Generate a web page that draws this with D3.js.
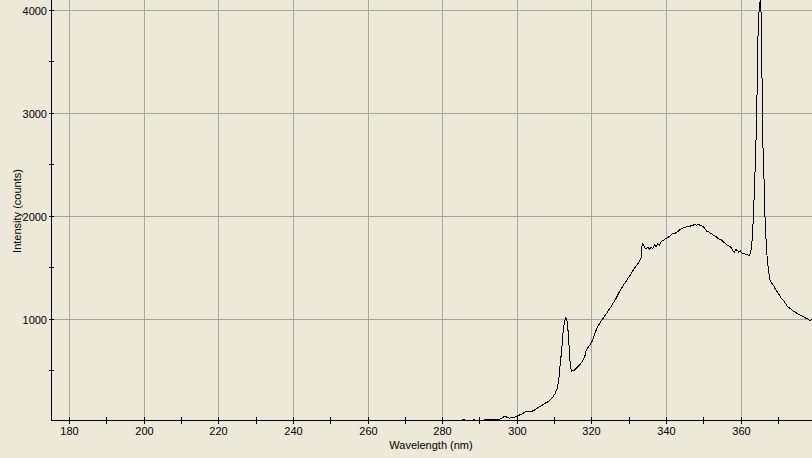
<!DOCTYPE html>
<html><head><meta charset="utf-8">
<script src="https://cdn.jsdelivr.net/npm/d3@7"></script>
<style>
html,body{margin:0;padding:0;background:#ECE9D8;overflow:hidden;}
svg{display:block;}
text{font-family:"Liberation Sans",Arial,sans-serif;font-size:11px;fill:#000;}
</style></head>
<body>
<svg id="c" width="812" height="458"></svg>
<script>
const xMajorTicks = [180,200,220,240,260,280,300,320,340,360];
const xMinorTicks = [190,210,230,250,270,290,310,330,350,370];
const yMajorTicks = [1000,2000,3000,4000];
const yMinorTicks = [500,1500,2500,3500];
const xLabel = "Wavelength (nm)";
const yLabel = "Intensity (counts)";

const wavelength = [280.0,284.8,285.3,285.8,286.2,287.9,288.1,288.5,288.8,290.5,291.4,292.0,293.0,294.2,295.3,295.8,296.3,297.0,297.4,297.9,298.6,299.3,300.0,300.6,301.3,302.1,302.8,303.6,304.3,305.0,305.6,306.4,307.1,307.8,308.6,309.3,310.1,310.7,311.1,311.5,311.9,312.3,312.7,313.0,313.3,313.7,314.1,314.5,314.9,315.5,316.1,316.8,317.4,318.1,318.5,318.9,319.5,320.1,320.5,320.9,321.4,321.9,322.5,323.0,323.6,324.1,324.6,325.1,325.7,326.2,326.8,327.4,327.9,328.5,329.1,329.6,330.2,330.8,331.3,331.9,332.4,332.9,333.2,333.5,333.8,334.2,334.6,335.0,335.4,335.9,336.3,336.8,337.2,337.7,338.1,338.6,339.1,339.6,340.1,340.6,341.1,341.6,342.1,342.6,343.1,343.6,344.1,344.6,345.1,345.6,346.1,346.6,347.1,347.6,348.1,348.6,349.1,349.6,350.0,350.4,350.8,351.3,351.8,352.3,352.8,353.3,353.8,354.3,354.8,355.3,355.8,356.3,356.8,357.3,357.8,358.2,358.6,359.0,359.4,359.8,360.2,360.7,361.2,361.7,362.1,362.5,362.8,363.1,363.4,363.7,364.0,364.2,364.4,364.7,365.0,365.2,365.4,365.6,365.8,366.1,366.4,366.8,367.2,367.7,368.2,368.7,369.2,369.7,370.2,370.8,371.3,371.8,372.3,372.8,373.4,373.9,374.4,374.9,375.4,375.9,376.4,376.9,377.4,377.9,378.4,378.9,379.3];
const intensity = [5,8,24,24,10,12,24,24,10,18,27,28,29,30,31,40,52,54,44,42,44,52,60,72,82,100,104,106,112,128,145,160,178,192,208,235,275,330,410,560,700,890,985,1015,990,860,610,495,500,512,535,560,590,640,700,725,750,790,830,870,920,950,985,1010,1040,1065,1095,1120,1160,1185,1225,1270,1300,1335,1365,1395,1425,1460,1490,1520,1545,1575,1600,1735,1730,1695,1685,1700,1680,1700,1690,1720,1705,1735,1720,1755,1765,1780,1790,1800,1815,1830,1835,1840,1855,1870,1880,1888,1895,1905,1900,1910,1915,1918,1915,1920,1912,1905,1895,1875,1855,1850,1835,1825,1810,1805,1785,1775,1770,1750,1740,1720,1710,1700,1665,1650,1675,1670,1650,1665,1645,1640,1630,1625,1620,1640,1700,1850,2100,2400,2750,3000,3600,3940,4070,4095,3930,3340,2740,2420,2000,1675,1520,1385,1350,1330,1290,1265,1240,1200,1185,1160,1130,1115,1100,1080,1075,1060,1050,1040,1030,1020,1010,1005,990,995,985];

(function () {
const W = 812, H = 458;
const mLeft = 51.3, mRight = 812, mTop = 0, mBottom = 420.3;
const x = d3.scaleLinear().domain([175.1, 379]).range([mLeft, mRight]);
const y = d3.scaleLinear().domain([20, 4100]).range([mBottom, mTop]);
const px = v => Math.floor(v) + 0.5;

const svg = d3.select("#c");
svg.append("rect").attr("width", W).attr("height", H).attr("fill", "#ECE9D8");

svg.append("defs").append("clipPath").attr("id", "clip")
  .append("rect").attr("x", 52).attr("y", 0).attr("width", W - 52).attr("height", 420);

const grid = svg.append("g").attr("shape-rendering", "crispEdges");
grid.selectAll(".gx").data(xMajorTicks).join("line")
  .attr("x1", d => px(x(d))).attr("x2", d => px(x(d)))
  .attr("y1", 0).attr("y2", 420)
  .attr("stroke", "#A4A4A4");
grid.selectAll(".gy").data(yMajorTicks).join("line")
  .attr("x1", 52).attr("x2", W)
  .attr("y1", d => px(y(d))).attr("y2", d => px(y(d)))
  .attr("stroke", "#A4A4A4");

const pts = wavelength.map((w, i) => [w, intensity[i]]);
svg.append("path")
  .datum(pts)
  .attr("clip-path", "url(#clip)")
  .attr("fill", "none")
  .attr("stroke", "#000")
  .attr("stroke-width", 1)
  .attr("shape-rendering", "crispEdges")
  .attr("d", d3.line().x(d => x(d[0])).y(d => y(d[1])));

const ax = svg.append("g").attr("shape-rendering", "crispEdges");
ax.append("line").attr("x1", 51.5).attr("x2", 51.5).attr("y1", 0).attr("y2", 420.5).attr("stroke", "#000");
ax.append("line").attr("x1", 51).attr("x2", W).attr("y1", 420.5).attr("y2", 420.5).attr("stroke", "#000");
ax.selectAll(".ty").data(yMajorTicks.concat(yMinorTicks)).join("line")
  .attr("x1", 49).attr("x2", 54)
  .attr("y1", d => px(y(d))).attr("y2", d => px(y(d)))
  .attr("stroke", "#000");
ax.selectAll(".tx").data(xMajorTicks.concat(xMinorTicks)).join("line")
  .attr("x1", d => px(x(d))).attr("x2", d => px(x(d)))
  .attr("y1", 417).attr("y2", 424)
  .attr("stroke", "#000");

svg.selectAll(".ly").data(yMajorTicks).join("text")
  .attr("x", 47).attr("y", d => px(y(d)) + 4)
  .attr("text-anchor", "end")
  .text(d => d);
svg.selectAll(".lx").data(xMajorTicks).join("text")
  .attr("x", d => px(x(d))).attr("y", 435)
  .attr("text-anchor", "middle")
  .text(d => d);

svg.append("text").attr("x", 431).attr("y", 449).attr("text-anchor", "middle").text(xLabel);
svg.append("text").attr("transform", "translate(21,211) rotate(-90)").attr("text-anchor", "middle").text(yLabel);
})();
</script>
</body></html>
